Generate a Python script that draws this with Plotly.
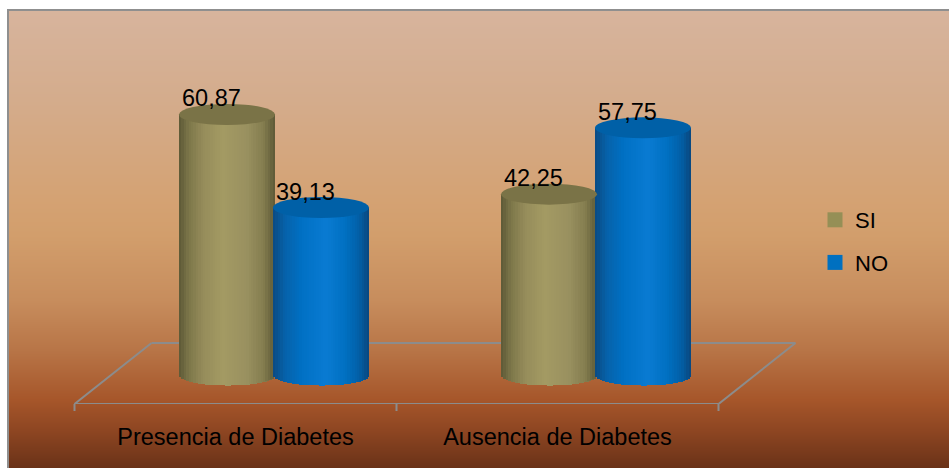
import base64
import struct
import zlib

import numpy as np
import plotly.graph_objects as go

# ---------------- data ----------------
categories = ["Presencia de Diabetes", "Ausencia de Diabetes"]
series_names = ["SI", "NO"]
si_values = [60.87, 42.25]
no_values = [39.13, 57.75]
series_values = [si_values, no_values]

# ---------------- geometry / style ----------------
W, H = 949, 468
PLOT_B = 404          # pixel row of the plot-area bottom (front edge of floor)
PX_X = 322.0          # pixels per category unit
X0 = 274.0            # pixel of category 0 center
PX_Y = 4.28           # pixels per value unit
Y0 = 375.0            # pixel of value 0

xr = [-X0 / PX_X, (W - X0) / PX_X]
yr = [(Y0 - PLOT_B) / PX_Y, Y0 / PX_Y]

cyl_half_w = 48 / PX_X
cyl_offset = [-47 / PX_X, 47 / PX_X]
ell_h = 10.5 / PX_Y
depth_x = 38.5 / PX_X
back_y = (Y0 - 343) / PX_Y
font = "Liberation Sans"

shade_stops = [
    [(0.0, "#5C5836"), (0.1, "#7C7649"), (0.25, "#958C5A"), (0.45, "#A39A63"),
     (0.7, "#9A9160"), (0.88, "#847D4F"), (1.0, "#5C5836")],
    [(0.0, "#0A4A82"), (0.12, "#0661A9"), (0.3, "#0070C4"), (0.55, "#0A7BD2"),
     (0.75, "#0070C2"), (0.9, "#025FA6"), (1.0, "#0A467C")],
]
cap_colors = ["#7A7347", "#0060A7"]
legend_colors = ["#958F56", "#0070C0"]


def hex2rgb(h):
    h = h.lstrip("#")
    return np.array([int(h[i:i + 2], 16) for i in (0, 2, 4)], dtype=float)


def interp(stops, t):
    for (t0, c0), (t1, c1) in zip(stops[:-1], stops[1:]):
        if t <= t1:
            f = (t - t0) / (t1 - t0) if t1 > t0 else 0
            c = hex2rgb(c0) * (1 - f) + hex2rgb(c1) * f
            return "rgb(%d,%d,%d)" % tuple(np.round(c))
    return stops[-1][1]


# ---------------- background gradient image ----------------
bg_stops = [(10, "#D7B49D"), (100, "#D4AC8C"), (200, "#D4A273"), (235, "#D29E6C"),
            (300, "#C78D5D"), (350, "#B87547"), (400, "#A6562A"), (430, "#8E4622"),
            (468, "#6A3218")]


def bg_color(py):
    for (p0, c0), (p1, c1) in zip(bg_stops[:-1], bg_stops[1:]):
        if py <= p1:
            f = (py - p0) / (p1 - p0)
            return np.round(hex2rgb(c0) * (1 - f) + hex2rgb(c1) * f).astype(int)
    return hex2rgb(bg_stops[-1][1]).astype(int)


def make_png(rows, width):
    raw = b"".join(b"\x00" + bytes(r) for r in rows)

    def chunk(t, d):
        return struct.pack(">I", len(d)) + t + d + struct.pack(">I", zlib.crc32(t + d) & 0xFFFFFFFF)

    ihdr = struct.pack(">IIBBBBB", width, len(rows), 8, 2, 0, 0, 0)
    return b"\x89PNG\r\n\x1a\n" + chunk(b"IHDR", ihdr) + chunk(b"IDAT", zlib.compress(raw)) + chunk(b"IEND", b"")


rows = []
for py in range(10, 468):
    c = bg_color(py + 0.5)
    rows.append(list(c) * 4)
bg_uri = "data:image/png;base64," + base64.b64encode(make_png(rows, 4)).decode()


def paper_x(px):
    return px / W


def paper_y(py):
    return (PLOT_B - py) / PLOT_B


fig = go.Figure()

# ---------------- cylinders (bars split into shaded strips) ----------------
N = 40
cat_pos = list(range(len(categories)))
shapes = []
annotations = []
for s, (name, vals) in enumerate(zip(series_names, series_values)):
    dw = 2 * cyl_half_w / N
    for k in range(N):
        t = (k + 0.5) / N
        a_k = -cyl_half_w + k * dw
        b_k = min(a_k + 1.7 * dw, cyl_half_w)
        cx = (a_k + b_k) / 2
        w = b_k - a_k
        e = ell_h * np.sqrt(max(0.0, 1 - (2 * t - 1) ** 2))
        fig.add_trace(go.Bar(
            x=[c + cyl_offset[s] + cx for c in cat_pos],
            y=[v + e for v in vals],
            base=[-e] * len(vals),
            width=[w] * len(vals),
            marker=dict(color=interp(shade_stops[s], t), line=dict(width=0)),
            showlegend=False, hoverinfo="skip",
        ))
    for c, v in zip(cat_pos, vals):
        xc = c + cyl_offset[s]
        shapes.append(dict(type="circle", xref="x", yref="y",
                           x0=xc - cyl_half_w, x1=xc + cyl_half_w,
                           y0=v - ell_h, y1=v + ell_h,
                           fillcolor=cap_colors[s], line=dict(width=0), layer="above"))
        annotations.append(dict(x=xc, y=v, xref="x", yref="y", showarrow=False,
                                text=("%.2f" % v).replace(".", ","),
                                xshift=-16, yshift=16,
                                font=dict(family=font, size=23.5, color="#000000")))

# legend entries
for s, name in enumerate(series_names):
    fig.add_trace(go.Scatter(x=[None], y=[None], mode="markers", name=name,
                             legendgroup=name,
                             marker=dict(symbol="square", size=15, color=legend_colors[s])))

# ---------------- floor ----------------
fl = -0.5 - depth_x
fr = len(categories) - 0.5 - depth_x
bl = -0.5 + depth_x
br = len(categories) - 0.5 + depth_x
floor_col = "#8C8C8C"
for (x0, y0, x1, y1) in [(fl, yr[0], fr, yr[0]), (bl, back_y, br, back_y),
                         (fl, yr[0], bl, back_y), (fr, yr[0], br, back_y)]:
    shapes.append(dict(type="line", xref="x", yref="y", x0=x0, y0=y0, x1=x1, y1=y1,
                       line=dict(color=floor_col, width=2), layer="below"))
for i in range(len(categories) + 1):
    xt = i - 0.5 - depth_x
    shapes.append(dict(type="line", xref="x", yref="paper", x0=xt, x1=xt,
                       y0=0, y1=paper_y(411), line=dict(color=floor_col, width=2), layer="below"))

# border of chart area
shapes.append(dict(type="rect", xref="paper", yref="paper",
                   x0=paper_x(8), x1=paper_x(W + 5), y0=paper_y(10), y1=paper_y(H + 5),
                   line=dict(color="#8F8F8F", width=2), fillcolor="rgba(0,0,0,0)", layer="below"))

fig.update_layout(
    width=W, height=H,
    margin=dict(l=0, r=0, t=0, b=H - PLOT_B, pad=0),
    autosize=False,
    paper_bgcolor="white", plot_bgcolor="rgba(0,0,0,0)",
    barmode="overlay", bargap=0,
    shapes=shapes, annotations=annotations,
    images=[dict(source=bg_uri, xref="paper", yref="paper", x=paper_x(8), y=paper_y(10),
                 sizex=paper_x(W - 8), sizey=(H - 10) / PLOT_B, xanchor="left", yanchor="top",
                 sizing="stretch", layer="below")],
    xaxis=dict(range=xr, showgrid=False, zeroline=False, showline=False, ticks="",
               tickmode="array", tickvals=[c - depth_x for c in cat_pos], ticktext=categories,
               tickfont=dict(family=font, size=23.5, color="#000000"), automargin=False,
               ticklabelstandoff=16, fixedrange=True),
    yaxis=dict(range=yr, visible=False, fixedrange=True),
    showlegend=True,
    legend=dict(x=paper_x(815), y=paper_y(199), xanchor="left", yanchor="top",
                bgcolor="rgba(0,0,0,0)", traceorder="grouped", tracegroupgap=11,
                font=dict(family=font, size=22, color="#000000")),
)

fig.write_html("out.html")
